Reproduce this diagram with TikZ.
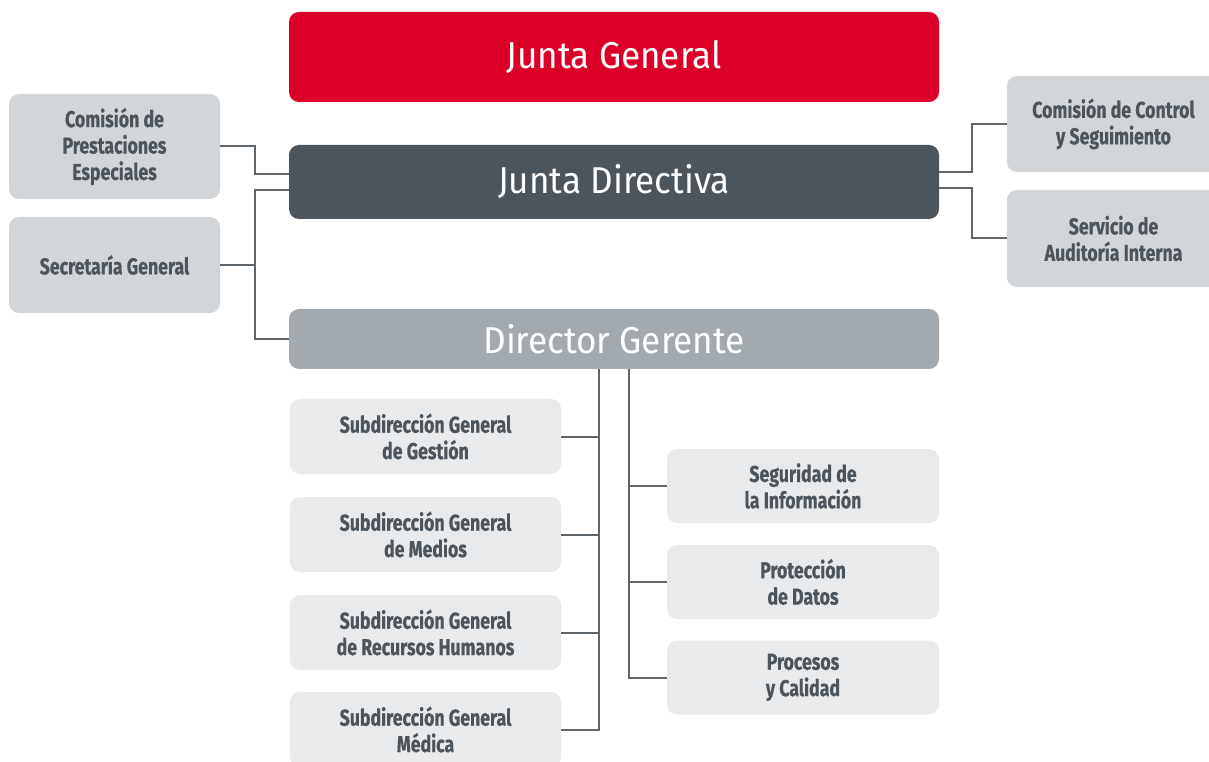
\documentclass[tikz,border=0pt]{standalone}
\usepackage{fontspec}
\setmainfont{Fira Sans}
\newfontfamily\titlefont[FakeStretch=0.94]{Fira Sans}
\newfontfamily\boxfont[FakeStretch=0.77,FakeBold=0.6]{Fira Sans}
\usetikzlibrary{calc}
\definecolor{jgred}{RGB}{220,0,40}
\definecolor{jddark}{RGB}{77,85,92}
\definecolor{dggray}{RGB}{163,170,175}
\definecolor{boxmid}{RGB}{210,214,217}
\definecolor{boxlight}{RGB}{232,234,235}
\definecolor{boxtext}{RGB}{77,85,92}
\definecolor{linecol}{RGB}{95,102,108}
\tikzset{
  x=0.75pt, y=-0.75pt,
  bigbox/.style={rounded corners=7.5pt, minimum width=487.5pt, inner sep=0pt, text=white,
     font=\titlefont\fontsize{28}{32}\selectfont},
  smallbox/.style={rounded corners=7.5pt, inner sep=0pt, text=boxtext, align=center,
     font=\boxfont\bfseries\fontsize{17.25}{19.8}\selectfont},
  conn/.style={draw=linecol, line width=1.5pt}
}
\begin{document}
\begin{tikzpicture}
\useasboundingbox (0,0) rectangle (1209,762);
\begin{scope}
\clip (0,0) rectangle (1209,762);
% main boxes
\node[bigbox, fill=jgred, minimum height=67.5pt] (jg) at (614,57) {Junta General};
\node[bigbox, fill=jddark, minimum height=55.5pt] (jd) at (614,182) {Junta Directiva};
\node[bigbox, fill=dggray, minimum height=45pt] (dg) at (614,339) {Director Gerente};
% left
\node[smallbox, fill=boxmid, minimum width=158.25pt, minimum height=78.75pt] (cpe) at (114.5,146.5) {Comisión de\\Prestaciones\\Especiales};
\node[smallbox, fill=boxmid, minimum width=158.25pt, minimum height=72pt] (sg) at (114.5,265) {Secretaría General};
% right
\node[smallbox, fill=boxmid, minimum width=160pt, minimum height=72pt] (ccs) at (1113.5,124) {Comisión de Control\\y Seguimiento};
\node[smallbox, fill=boxmid, minimum width=160pt, minimum height=72.75pt] (sai) at (1113.5,238.5) {Servicio de\\Auditoría Interna};
% subdirecciones
\node[smallbox, fill=boxlight, minimum width=203.25pt, minimum height=56.25pt] (s1) at (425.5,436.5) {Subdirección General\\de Gestión};
\node[smallbox, fill=boxlight, minimum width=203.25pt, minimum height=56.25pt] (s2) at (425.5,534.5) {Subdirección General\\de Medios};
\node[smallbox, fill=boxlight, minimum width=203.25pt, minimum height=56.25pt] (s3) at (425.5,632.5) {Subdirección General\\de Recursos Humanos};
\node[smallbox, fill=boxlight, minimum width=203.25pt, minimum height=56.25pt] (s4) at (425.5,729.5) {Subdirección General\\Médica};
% right column
\node[smallbox, fill=boxlight, minimum width=204pt, minimum height=55.5pt] (r1) at (803,486) {Seguridad de\\la Información};
\node[smallbox, fill=boxlight, minimum width=204pt, minimum height=55.5pt] (r2) at (803,582) {Protección\\de Datos};
\node[smallbox, fill=boxlight, minimum width=204pt, minimum height=55.5pt] (r3) at (803,677.5) {Procesos\\y Calidad};
% connectors left
\draw[conn] (cpe.east) -- ++(35,0) |- ($(jd.west)+(0,-8)$);
\draw[conn] (sg.east) -- ++(35,0);
\draw[conn] ($(jd.west)+(0,8)$) -- ++(-34,0) |- (dg.west);
% connectors right
\draw[conn] ($(jd.east)+(0,-10)$) -- ++(33,0) |- (ccs.west);
\draw[conn] ($(jd.east)+(0,6)$) -- ++(33,0) |- (sai.west);
% connectors bottom
\coordinate (b1) at (dg.south -| 599,0);
\coordinate (b2) at (dg.south -| 629,0);
\draw[conn] (b1) |- (s4.east);
\draw[conn] (s1.east) -- (s1.east -| b1);
\draw[conn] (s2.east) -- (s2.east -| b1);
\draw[conn] (s3.east) -- (s3.east -| b1);
\draw[conn] (b2) |- (r3.west);
\draw[conn] (r1.west) -- (r1.west -| b2);
\draw[conn] (r2.west) -- (r2.west -| b2);
\end{scope}
\end{tikzpicture}
\end{document}
